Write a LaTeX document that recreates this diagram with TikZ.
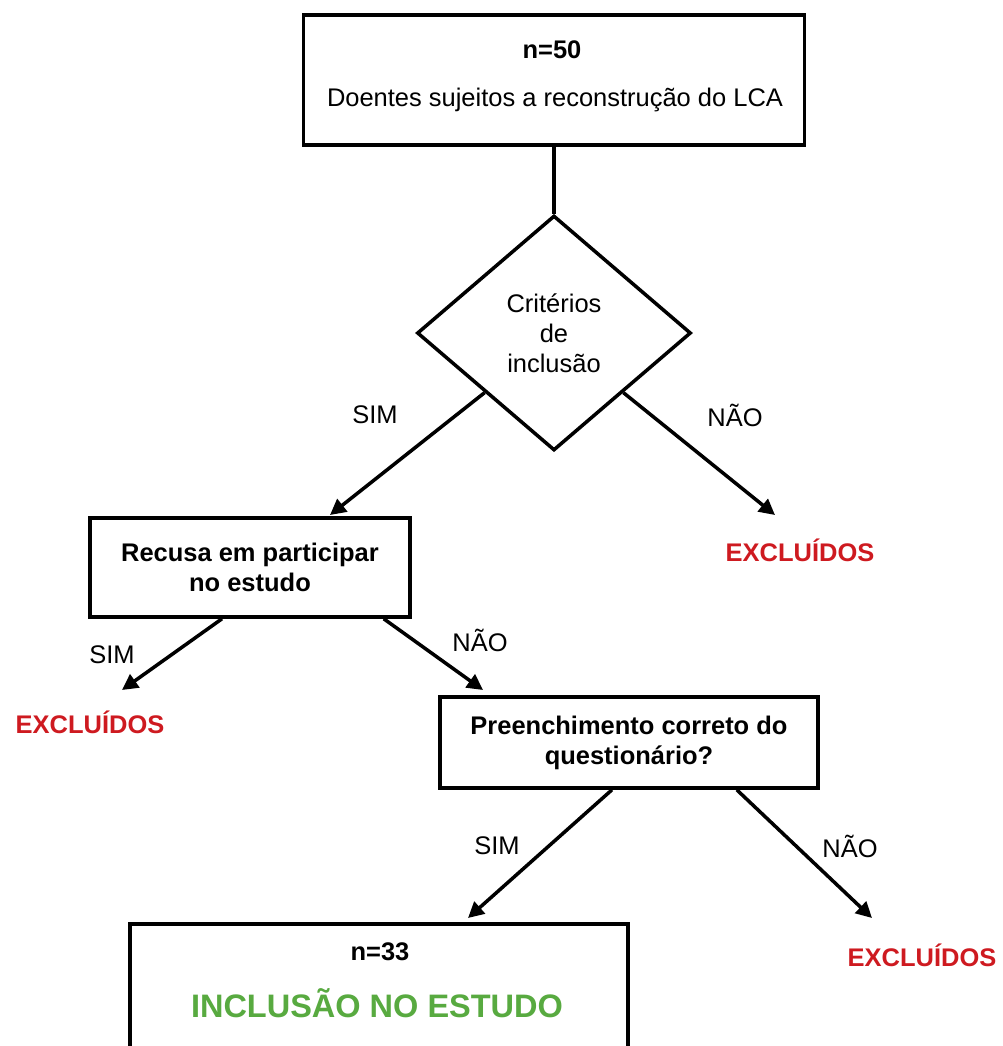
\documentclass[tikz,border=0pt]{standalone}
\usepackage{fontspec}
\setmainfont{Liberation Sans}
\usetikzlibrary{arrows.meta}
\usetikzlibrary{shapes.geometric}
\definecolor{vermelho}{RGB}{206,26,32}
\definecolor{verde}{RGB}{88,170,64}
\newcommand{\texto}{\fontsize{14.5}{17}\selectfont}
\tikzset{
	caixa/.style={draw,line width=2pt,rectangle,align=center,inner sep=0pt,font=\texto\bfseries},
	losango/.style={draw,line width=2pt,diamond,align=center,inner sep=0pt,minimum width=5.48cm,minimum height=4.7cm},
	seta/.style={-{Triangle[length=9pt,width=9pt]},line width=2pt},
	negrito/.style={font=\texto\bfseries},
	excluido/.style={font=\texto\bfseries,text=vermelho}
}

\begin{document}
\begin{tikzpicture}[x=0.02cm,y=-0.02cm,font=\texto]
		\useasboundingbox (0,0) rectangle (1002,1046);
		\clip (0,0) rectangle (1002,1046);
		\node[caixa,minimum width=10.02cm,minimum height=2.6cm] (inicio) at (554,80) {};
		\node[negrito] (n50) at (552,50) {n=50};
		\node (doentes) at (555,100) {Doentes sujeitos a reconstrução do LCA};
		\node[losango] (crit) at (554,333) {Critérios\\de\\inclusão};
		\draw[line width=2pt] (inicio.south) to (crit.north);
		
		\node[caixa,minimum width=6.4cm,minimum height=1.98cm] (recusa) at (250,567.5) {Recusa em participar\\no estudo};
		\coordinate (fim1) at (330,515);
		\coordinate (fim2) at (775,515);
		\draw[seta] (crit.south west) to (fim1);
		\draw[seta] (crit.south east) to (fim2);
		\node (sim1) at (375,415) {SIM};
		\node (nao1) at (735,415) {NÃO};
		\node[excluido] (excl1) at (800,550) {EXCLUÍDOS};
		
		\node[caixa,minimum width=7.56cm,minimum height=1.82cm] (preench) at (629,742.5) {Preenchimento correto do\\questionário?};
		\coordinate (fim3) at (122,690);
		\coordinate (fim4) at (483,690);
		\draw[seta] ([xshift=-0.56cm]recusa.south) to (fim3);
		\draw[seta] ([xshift=-0.56cm]recusa.south east) to (fim4);
		\node (sim2) at (112,655) {SIM};
		\node (nao2) at (480,640) {NÃO};
		\node[excluido] (excl2) at (90,722) {EXCLUÍDOS};
		
		\node[caixa,minimum width=9.96cm,minimum height=3.52cm] (inclusao) at (379,1012) {};
		\coordinate (fim5) at (468,918);
		\coordinate (fim6) at (872,918);
		\draw[seta] ([xshift=-0.34cm]preench.south) to (fim5);
		\draw[seta] ([xshift=-1.66cm]preench.south east) to (fim6);
		\node (sim3) at (497,846) {SIM};
		\node (nao3) at (850,846) {NÃO};
		\node[excluido] (excl3) at (922,955) {EXCLUÍDOS};
		\node[negrito] (n33) at (380,952) {n=33};
		\node[font=\fontsize{18.5}{22}\selectfont\bfseries,text=verde] (incl) at (377,1003) {INCLUSÃO NO ESTUDO};
		
		\end{tikzpicture}
\end{document}
